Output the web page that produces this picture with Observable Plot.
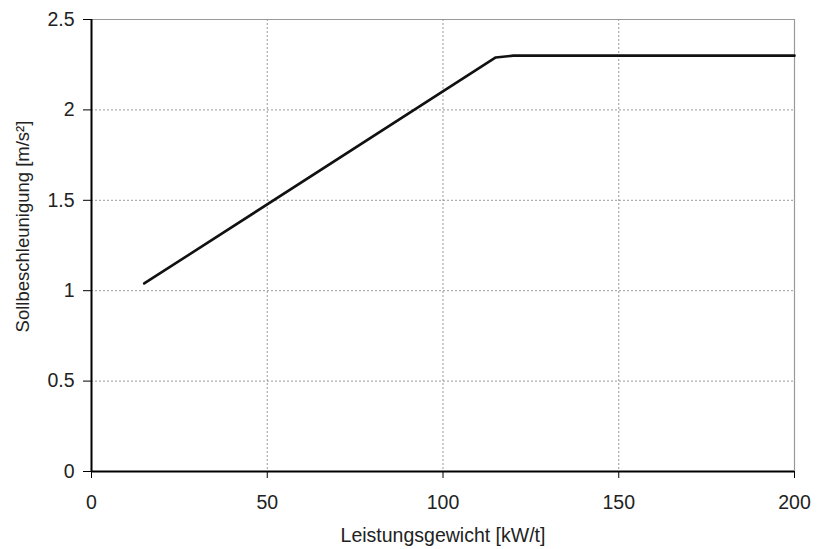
<!DOCTYPE html>
<html><head><meta charset="utf-8">
<script src="https://cdn.jsdelivr.net/npm/d3@7"></script>
<script src="https://cdn.jsdelivr.net/npm/@observablehq/plot@0.6"></script>
<style>body{margin:0;background:#fff;} svg{font-family:"Liberation Sans",Arial,sans-serif;}</style>
</head><body><div id="chart"></div>
<script>
const powerToWeight = [15, 115, 120, 200];
const targetAccel = [1.04, 2.29, 2.30, 2.30];
const xTicks = [0, 50, 100, 150, 200];
const yTicks = [0, 0.5, 1, 1.5, 2, 2.5];
const xLabel = "Leistungsgewicht [kW/t]";
const yLabel = "Sollbeschleunigung [m/s²]";
const data = powerToWeight.map((x, i) => ({x, y: targetAccel[i]}));
const gridX = xTicks.filter(v => v > 0 && v < 200);
const gridY = yTicks.filter(v => v > 0 && v < 2.5);
const fmt = d => String(d);

const chart = Plot.plot({
  width: 818, height: 549,
  marginLeft: 91, marginRight: 24, marginTop: 19, marginBottom: 78,
  style: {fontSize: "19px", fontFamily: "Liberation Sans, Arial, sans-serif", color: "#222"},
  x: {domain: [0, 200]},
  y: {domain: [0, 2.5]},
  marks: [
    Plot.ruleX(gridX, {stroke: "#999", strokeDasharray: "2,2", strokeWidth: 1}),
    Plot.ruleY(gridY, {stroke: "#999", strokeDasharray: "2,2", strokeWidth: 1}),
    Plot.ruleY([2.5], {stroke: "#999", strokeWidth: 1.2}),
    Plot.ruleX([200], {stroke: "#999", strokeWidth: 1.2}),
    Plot.axisX({ticks: xTicks, tickFormat: fmt, tickSize: 7, tickPadding: 17, fontSize: 19.5, label: null, stroke: "#000"}),
    Plot.axisY({ticks: yTicks, tickFormat: fmt, tickSize: 8, tickPadding: 9, fontSize: 19.5, label: null, stroke: "#000"}),
    Plot.text([xLabel], {frameAnchor: "bottom", dy: 64, fontSize: 19.5, fill: "#222", textAnchor: "middle", lineAnchor: "middle"}),
    Plot.text([yLabel], {frameAnchor: "left", rotate: -90, dx: -68, dy: -19, fontSize: 18.5, fill: "#222", textAnchor: "middle", lineAnchor: "middle"}),
    Plot.ruleX([0], {stroke: "#000", strokeWidth: 2}),
    Plot.ruleY([0], {stroke: "#000", strokeWidth: 2}),
    Plot.line(data, {x: "x", y: "y", stroke: "#111", strokeWidth: 2.6})
  ]
});
document.getElementById("chart").appendChild(chart);
</script></body></html>
